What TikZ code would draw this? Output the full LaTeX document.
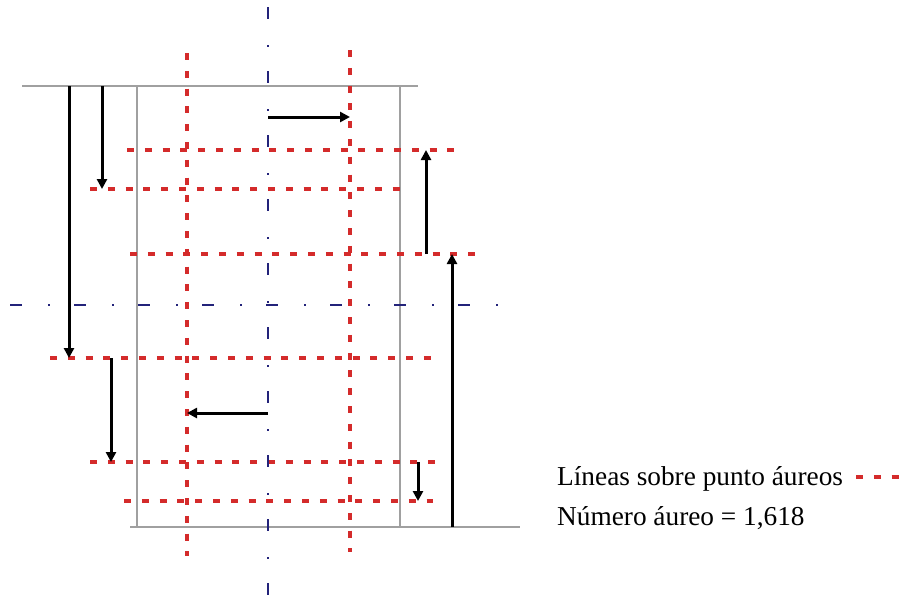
\documentclass[tikz,border=0pt]{standalone}
\usepackage{fontspec}
\setmainfont{Liberation Serif}
\usetikzlibrary{arrows.meta}
\definecolor{goldred}{HTML}{D42B2B}
\definecolor{axisblue}{HTML}{23237A}
\definecolor{framegrey}{HTML}{A0A0A0}
\tikzset{
  goldline/.style={goldred, line width=3.5pt, dash pattern=on 7pt off 10.8pt},
  axisline/.style={axisblue, line width=2pt, dash pattern=on 12pt off 26pt on 1.8pt off 24.2pt},
  frameline/.style={framegrey, line width=1.4pt},
  shiftarrow/.style={black, line width=3pt, -{Triangle[length=10pt,width=10pt]}, shorten >=0pt},
  legendtext/.style={font=\fontsize{27.3}{32}\selectfont, inner sep=0pt, anchor=base west}
}
\begin{document}
\begin{tikzpicture}[x=1pt, y=-1pt]
\useasboundingbox (0,0) rectangle (901,600);
\fill[white] (0,0) rectangle (901,600);

% frame of the format and its reference lines
\draw[frameline] (137,86) rectangle (400,527);
\draw[frameline] (22,86) -- (418,86);
\draw[frameline] (130,527) -- (520,527);

% golden-section lines
\draw[goldline] (187,53) -- (187,556);
\draw[goldline] (350,50) -- (350,552);
\draw[goldline] (127,150) -- (455,150);
\draw[goldline] (90,189) -- (410,189);
\draw[goldline] (130,254) -- (476,254);
\draw[goldline] (50,358) -- (431,358);
\draw[goldline] (90,462) -- (436,462);
\draw[goldline] (124,501) -- (433,501);

% symmetry axes
\draw[axisline] (268,7) -- (268,600);
\draw[axisline] (10,305) -- (505,305);

% measurement points
\coordinate (a1s) at (69,86);   \coordinate (a1e) at (69,358);
\coordinate (a2s) at (102,86);  \coordinate (a2e) at (102,189);
\coordinate (a3s) at (268,117); \coordinate (a3e) at (350,117);
\coordinate (a4s) at (426,254); \coordinate (a4e) at (426,150);
\coordinate (a5s) at (452,527); \coordinate (a5e) at (452,254);
\coordinate (a6s) at (111,358); \coordinate (a6e) at (111,462);
\coordinate (a7s) at (268,413); \coordinate (a7e) at (187,413);
\coordinate (a8s) at (418,462); \coordinate (a8e) at (418,501);

% golden ratio distances
\draw[shiftarrow] (a1s) -- (a1e);
\draw[shiftarrow] (a2s) -- (a2e);
\draw[shiftarrow] (a3s) -- (a3e);
\draw[shiftarrow] (a4s) -- (a4e);
\draw[shiftarrow] (a5s) -- (a5e);
\draw[shiftarrow] (a6s) -- (a6e);
\draw[shiftarrow] (a7s) -- (a7e);
\draw[shiftarrow] (a8s) -- (a8e);

% legend
\node[legendtext] (lg1) at (557,485) {Líneas sobre punto áureos};
\node[legendtext] (lg2) at (557,525) {Número áureo = 1,618};
\coordinate (lgs) at (856,477);
\coordinate (lge) at (901,477);
\draw[goldline] (lgs) -- (lge);
\end{tikzpicture}
\end{document}
